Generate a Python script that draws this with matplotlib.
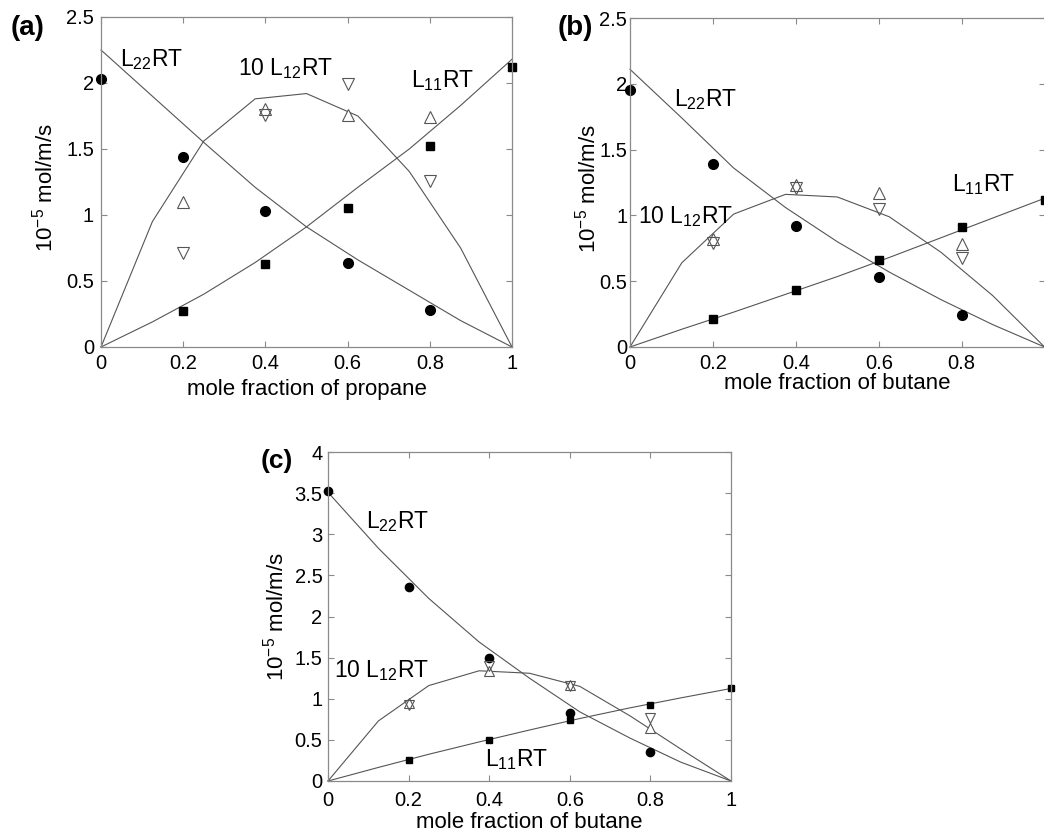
import matplotlib
matplotlib.use("Agg")
import matplotlib.pyplot as plt
import numpy as np

plt.rcParams['font.family'] = ['Liberation Sans', 'DejaVu Sans']
plt.rcParams['mathtext.default'] = 'regular'

# ---------------- data ----------------
x_model = [0, 0.125, 0.25, 0.375, 0.5, 0.625, 0.75, 0.875, 1.0]
x_data = [0, 0.2, 0.4, 0.6, 0.8, 1.0]
x_tri = [0.2, 0.4, 0.6, 0.8]

# (a) propane
a_L22_line = [2.25, 1.90, 1.55, 1.21, 0.91, 0.66, 0.43, 0.20, 0.0]
a_L11_line = [0.0, 0.19, 0.40, 0.64, 0.91, 1.21, 1.50, 1.83, 2.18]
a_L12_line = [0.0, 0.95, 1.56, 1.88, 1.92, 1.75, 1.33, 0.75, 0.0]
a_L22_pts = [2.03, 1.44, 1.03, 0.64, 0.28]          # x = 0..0.8
a_L11_pts = [0.27, 0.63, 1.05, 1.52, 2.12]          # x = 0.2..1
a_up = [1.10, 1.80, 1.76, 1.74]
a_down = [0.71, 1.76, 1.99, 1.26]

# (b) butane
b_L22_line = [2.11, 1.74, 1.36, 1.06, 0.80, 0.57, 0.36, 0.17, 0.0]
b_L11_line = [0.0, 0.135, 0.265, 0.40, 0.535, 0.68, 0.83, 0.98, 1.13]
b_L12_line = [0.0, 0.64, 1.01, 1.16, 1.14, 0.99, 0.72, 0.39, 0.0]
b_L22_pts = [1.95, 1.39, 0.92, 0.53, 0.24]
b_L11_pts = [0.21, 0.43, 0.66, 0.91, 1.12]
b_up = [0.82, 1.23, 1.17, 0.78]
b_down = [0.79, 1.21, 1.05, 0.68]

# (c) butane
c_L22_line = [3.51, 2.83, 2.22, 1.69, 1.25, 0.84, 0.52, 0.23, 0.0]
c_L11_line = [0.0, 0.165, 0.325, 0.475, 0.62, 0.76, 0.89, 1.01, 1.125]
c_L12_line = [0.0, 0.73, 1.16, 1.34, 1.31, 1.15, 0.79, 0.39, 0.0]
c_L22_pts = [3.53, 2.36, 1.50, 0.83, 0.35]
c_L11_pts = [0.26, 0.50, 0.74, 0.93, 1.13]
c_up = [0.95, 1.34, 1.17, 0.65]
c_down = [0.92, 1.40, 1.15, 0.76]

xticks = [0, 0.2, 0.4, 0.6, 0.8, 1.0]
xticklabels = ['0', '0.2', '0.4', '0.6', '0.8', '1']
yticks_ab = [0, 0.5, 1.0, 1.5, 2.0, 2.5]
yticklabels_ab = ['0', '0.5', '1', '1.5', '2', '2.5']
yticks_c = [0, 0.5, 1.0, 1.5, 2.0, 2.5, 3.0, 3.5, 4.0]
yticklabels_c = ['0', '0.5', '1', '1.5', '2', '2.5', '3', '3.5', '4']

ylabel = r'10$^{-5}$ mol/m/s'

W, H = 1044, 833
fig = plt.figure(figsize=(W / 100, H / 100), dpi=100)


def px_axes(l, r, t, b):
    return fig.add_axes([l / W, (H - b) / H, (r - l) / W, (b - t) / H])


LINE_C = '#555555'
SPINE_C = '#8a8a8a'


def panel(ax, L22l, L11l, L12l, L22p, L11p, up, down, ymax, yt, ytl,
          xlab, ms_scale, xpad, ypad, texts, xlabel_y, ylabel_xy, hide_x1=False):
    ax.plot(x_model, L22l, color=LINE_C, lw=0.8, clip_on=False)
    ax.plot(x_model, L11l, color=LINE_C, lw=0.8, clip_on=False)
    ax.plot(x_model, L12l, color=LINE_C, lw=0.8, clip_on=False)
    ax.plot(x_data[:5], L22p, 'o', color='black', ms=7.0 * ms_scale, clip_on=False)
    ax.plot(x_data[1:], L11p, 's', color='black', ms=5.5 * ms_scale, clip_on=False)
    ax.plot(x_tri, up, '^', mfc='white', mec='#555555', mew=0.8,
            ms=8.0 * ms_scale, clip_on=False)
    ax.plot(x_tri, down, 'v', mfc='none', mec='#555555', mew=0.8,
            ms=8.0 * ms_scale, clip_on=False)
    ax.set_xlim(0, 1)
    ax.set_ylim(0, ymax)
    ax.set_xticks(xticks)
    xl = list(xticklabels)
    if hide_x1:
        xl[-1] = ''
    ax.set_xticklabels(xl)
    ax.set_yticks(yt)
    ax.set_yticklabels(ytl)
    ax.tick_params(axis='both', direction='in', length=4, width=0.8,
                   color=SPINE_C, labelsize=14.5, top=True, right=True)
    ax.tick_params(axis='x', pad=xpad)
    ax.tick_params(axis='y', pad=ypad)
    for s in ax.spines.values():
        s.set_color(SPINE_C)
        s.set_linewidth(0.9)
    ax.set_xlabel(xlab, fontsize=16)
    ax.xaxis.set_label_coords(0.5, xlabel_y)
    ax.set_ylabel(ylabel, fontsize=16)
    ax.yaxis.set_label_coords(*ylabel_xy)
    for (tx, ty, s) in texts:
        ax.text(tx, ty, s, fontsize=16.5, ha='left', va='baseline')


axa = px_axes(101, 512, 17, 347)
panel(axa, a_L22_line, a_L11_line, a_L12_line, a_L22_pts, a_L11_pts, a_up, a_down,
      2.5, yticks_ab, yticklabels_ab, 'mole fraction of propane', 1.0, 5, 5,
      [(0.047, 2.125, r'L$_{22}$RT'), (0.333, 2.062, r'10 L$_{12}$RT'),
       (0.754, 1.968, r'L$_{11}$RT')],
      -0.098, (-0.107, 0.482))

axb = px_axes(630, 1044.6, 18, 347)
panel(axb, b_L22_line, b_L11_line, b_L12_line, b_L22_pts, b_L11_pts, b_up, b_down,
      2.5, yticks_ab, yticklabels_ab, 'mole fraction of butane', 1.0, 5, 2,
      [(0.107, 1.833, r'L$_{22}$RT'), (0.020, 0.944, r'10 L$_{12}$RT'),
       (0.776, 1.185, r'L$_{11}$RT')],
      -0.080, (-0.070, 0.482), hide_x1=True)

axc = px_axes(328, 731, 452, 781)
panel(axc, c_L22_line, c_L11_line, c_L12_line, c_L22_pts, c_L11_pts, c_up, c_down,
      4.0, yticks_c, yticklabels_c, 'mole fraction of butane', 0.85, 7, 4,
      [(0.0935, 3.074, r'L$_{22}$RT'), (0.014, 1.267, r'10 L$_{12}$RT'),
       (0.389, 0.179, r'L$_{11}$RT')],
      -0.095, (-0.097, 0.498))

fig.text(11 / W, 1 - 15 / H, '(a)', fontsize=20, fontweight='bold', ha='left', va='top')
fig.text(558 / W, 1 - 15 / H, '(b)', fontsize=20, fontweight='bold', ha='left', va='top')
fig.text(261 / W, 1 - 449 / H, '(c)', fontsize=19, fontweight='bold', ha='left', va='top')

fig.savefig('out.png', dpi=100)
